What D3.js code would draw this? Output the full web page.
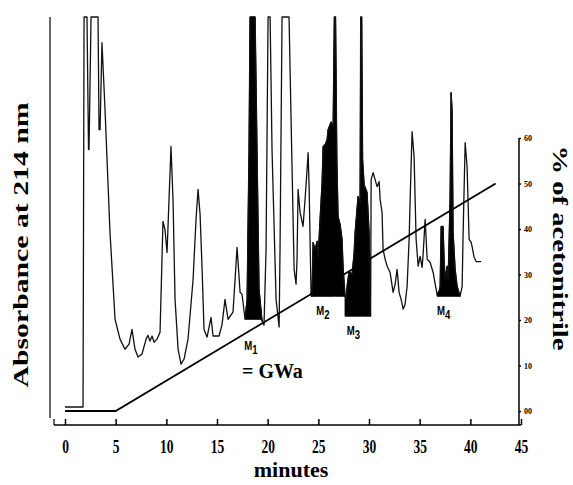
<!DOCTYPE html>
<html>
<head>
<meta charset="utf-8">
<script src="https://cdn.jsdelivr.net/npm/d3@7"></script>
<style>
  html, body { margin: 0; padding: 0; background: #fff; }
  svg { display: block; }
</style>
</head>
<body>
<svg id="chart" width="573" height="485"></svg>
<script>
// ---- data ----
const traceTime = [0,1.78,1.88,2.17,2.32,2.37,2.57,3.26,3.36,3.46,3.65,3.95,4.44,4.94,5.43,5.92,6.32,6.61,6.91,7.21,7.60,8.00,8.19,8.39,8.59,8.79,9.08,9.38,9.67,9.87,10.07,10.46,10.66,10.86,11.16,11.45,11.75,12.14,12.64,12.93,13.13,13.33,13.52,13.72,14.02,14.41,14.61,15.20,15.50,15.79,16.09,16.58,16.98,17.28,17.47,17.77,17.97,18.16,18.26,18.76,18.95,19.15,19.45,19.64,19.84,20.04,20.24,20.43,20.83,21.13,21.22,21.42,22.11,22.31,22.61,22.80,22.90,23.00,23.20,23.49,23.69,23.89,23.99,24.09,24.28,24.38,24.48,24.68,24.88,24.98,25.17,25.37,25.47,25.67,25.86,25.96,26.26,26.46,26.58,26.70,26.83,26.95,27.15,27.34,27.44,27.64,27.74,27.84,28.03,28.33,28.53,28.63,28.92,29.12,29.18,29.28,29.37,29.52,29.81,30.01,30.11,30.16,30.21,30.41,30.60,30.80,31.00,31.10,31.29,31.39,31.59,31.79,32.08,32.38,32.58,32.77,32.97,33.17,33.37,33.56,33.76,33.96,34.06,34.25,34.45,34.65,34.85,35.04,35.24,35.34,35.54,35.74,36.03,36.33,36.53,36.72,36.92,37.02,37.12,37.31,37.41,37.51,37.71,37.81,38.00,38.10,38.20,38.30,38.50,38.70,38.99,39.19,39.29,39.49,39.68,39.88,40.08,40.17,40.37,40.57,41.07];
const traceAbs = [0,0,100,100,66,66,100,100,71.1,71.1,93.4,76.2,44.8,22.5,17.4,14.8,16.1,19.9,14.8,12.8,13.6,17.4,18.4,16.9,18.2,16.6,17.4,19.2,47.6,45.5,39.6,66.8,53.2,27.6,14.8,11.0,12.3,17.4,32.7,48.1,55.8,49.4,36.1,19.9,17.9,23.0,18.2,18.2,21.2,27.6,22.5,24.3,40.9,29.4,28.9,22.5,27.6,66.0,100,100,66.0,30.2,22.0,21.0,40.4,100,100,66,27.6,20.5,40.4,100,100,73.7,35.3,31.5,37.9,55.8,49.9,46.3,53.2,60.9,65.2,56.5,29.4,28.4,42.2,40.4,42.5,38.6,48.1,57.5,66.8,67.3,68.5,71.1,73.1,71.9,100,100,63,48.8,46.8,43.0,36.1,28.4,27.6,31.0,34.8,34.0,39.4,44.8,54.0,52.4,100,100,63.4,57,55.0,44.8,27.6,23.3,58.3,60.1,58.3,56.5,57.8,53.2,49.9,40.4,37.9,36.1,34.5,29.4,31.5,35.3,29.4,27.6,25.1,26.3,30.9,43.0,53.2,70.6,64.2,43.0,36.1,38.6,35.8,39.1,48.1,37.9,37.1,34.5,31.5,28.9,29.7,30.9,46.3,46.3,37.9,32.7,36.1,32.7,53.2,80.6,76.2,44.8,35.3,30.9,28.4,30.9,44.8,67.8,61.6,43.0,42.2,41.2,38.4,37.3,37.3];

const gradientTime = [0, 5, 42.5];
const gradientPct = [0, 0, 50];

const xTicks = [0, 5, 10, 15, 20, 25, 30, 35, 40, 45];
const pctTicks = [0, 10, 20, 30, 40, 50, 60];
const pctTickLabels = ["00", "10", "20", "30", "40", "50", "60"];

// filled (shaded) peak groups: start time, end time, base absorbance
const fillStart = [17.77, 24.28, 27.64, 36.72];
const fillEnd = [19.45, 27.64, 30.16, 38.99];
const fillBase = [22.5, 28.4, 23.3, 28.4];

const peakNames = ["M", "M", "M", "M"];
const peakSubs = ["1", "2", "3", "4"];
const peakLabelTime = [17.7, 24.8, 27.8, 36.7];
const peakLabelAbs = [14.6, 23.5, 18.4, 23.5];

// ---- drawing ----
const svg = d3.select("#chart");
const x = d3.scaleLinear().domain([0, 45]).range([65, 521]);
const yA = d3.scaleLinear().domain([0, 100]).range([407, 17]);
const yP = d3.scaleLinear().domain([0, 60]).range([411, 138]);

const serif = "'Liberation Serif','Times New Roman',serif";

const trace = traceTime.map((t, i) => ({t, a: traceAbs[i]}));

// fills
const area = d3.area().x(d => x(d.t)).y1(d => yA(d.a));
fillStart.forEach((s, k) => {
  const pts = trace.filter(d => d.t >= s - 1e-6 && d.t <= fillEnd[k] + 1e-6);
  svg.append("path")
    .datum(pts)
    .attr("d", area.y0(yA(fillBase[k])))
    .attr("fill", "#000")
    .attr("stroke", "#000")
    .attr("stroke-width", 1);
});

// trace line
svg.append("path")
  .datum(trace)
  .attr("d", d3.line().x(d => x(d.t)).y(d => yA(d.a)))
  .attr("fill", "none")
  .attr("stroke", "#111")
  .attr("stroke-width", 1.3)
  .attr("stroke-linejoin", "round");

// gradient line
const grad = gradientTime.map((t, i) => ({t, p: gradientPct[i]}));
svg.append("path")
  .datum(grad)
  .attr("d", d3.line().x(d => x(d.t)).y(d => yP(d.p)))
  .attr("fill", "none")
  .attr("stroke", "#000")
  .attr("stroke-width", 1.8);

// left vertical line
svg.append("line").attr("x1", 50).attr("x2", 50).attr("y1", 17).attr("y2", 418)
  .attr("stroke", "#000").attr("stroke-width", 1.2);

// bottom axis
const xAxis = d3.axisBottom(x).tickValues(xTicks).tickSize(-6).tickSizeOuter(0).tickPadding(15);
const gx = svg.append("g").attr("transform", "translate(0,425)").call(xAxis);
gx.select(".domain").remove();
gx.selectAll(".tick line").attr("stroke", "#000").attr("stroke-width", 1.5);
gx.selectAll(".tick text")
  .attr("font-family", serif).attr("font-weight", "bold").attr("font-size", 18)
  .attr("fill", "#000").attr("transform", "scale(0.75,1)");
svg.append("line").attr("x1", 54).attr("x2", 521).attr("y1", 425).attr("y2", 425)
  .attr("stroke", "#000").attr("stroke-width", 1.6);
svg.append("line").attr("x1", 54).attr("x2", 54).attr("y1", 419).attr("y2", 425)
  .attr("stroke", "#000").attr("stroke-width", 1.2);

// right axis
const pAxis = d3.axisRight(yP).tickValues(pctTicks).tickSize(2).tickSizeOuter(0).tickPadding(3)
  .tickFormat((d, i) => pctTickLabels[i]);
const gp = svg.append("g").attr("transform", "translate(519,0)").call(pAxis);
gp.select(".domain").remove();
gp.selectAll(".tick line").attr("stroke", "#000").attr("stroke-width", 1.5);
gp.selectAll(".tick text")
  .attr("font-family", serif).attr("font-weight", "bold").attr("font-size", 8).attr("fill", "#000");
svg.append("line").attr("x1", 519).attr("x2", 519).attr("y1", 138).attr("y2", 425)
  .attr("stroke", "#000").attr("stroke-width", 1.5);

// axis titles
svg.append("text").attr("x", 291).attr("y", 477).attr("text-anchor", "middle")
  .attr("font-family", serif).attr("font-weight", "bold").attr("font-size", 22).text("minutes");

svg.append("text")
  .attr("transform", "translate(28,245) rotate(-90)")
  .attr("text-anchor", "middle")
  .attr("font-family", serif).attr("font-weight", "bold").attr("font-size", 20)
  .attr("textLength", 285).attr("lengthAdjust", "spacingAndGlyphs")
  .text("Absorbance at 214 nm");

svg.append("text")
  .attr("transform", "translate(553,248) rotate(90)")
  .attr("text-anchor", "middle")
  .attr("font-family", serif).attr("font-weight", "bold").attr("font-size", 20)
  .attr("textLength", 205).attr("lengthAdjust", "spacingAndGlyphs")
  .text("% of acetonitrile");

// peak labels
peakNames.forEach((n, i) => {
  const px = x(peakLabelTime[i]), py = yA(peakLabelAbs[i]);
  const t = svg.append("text")
    .attr("transform", `translate(${px},${py}) scale(0.8,1)`)
    .attr("font-family", "'Liberation Sans',Arial,sans-serif").attr("font-weight", "bold")
    .attr("font-size", 12).attr("fill", "#000");
  t.append("tspan").text(n);
  t.append("tspan").attr("dy", 4).attr("font-size", 12).text(peakSubs[i]);
});

svg.append("text").attr("x", 242).attr("y", 378)
  .attr("font-family", serif).attr("font-weight", "bold").attr("font-size", 20).text("= GWa");
</script>
</body>
</html>
